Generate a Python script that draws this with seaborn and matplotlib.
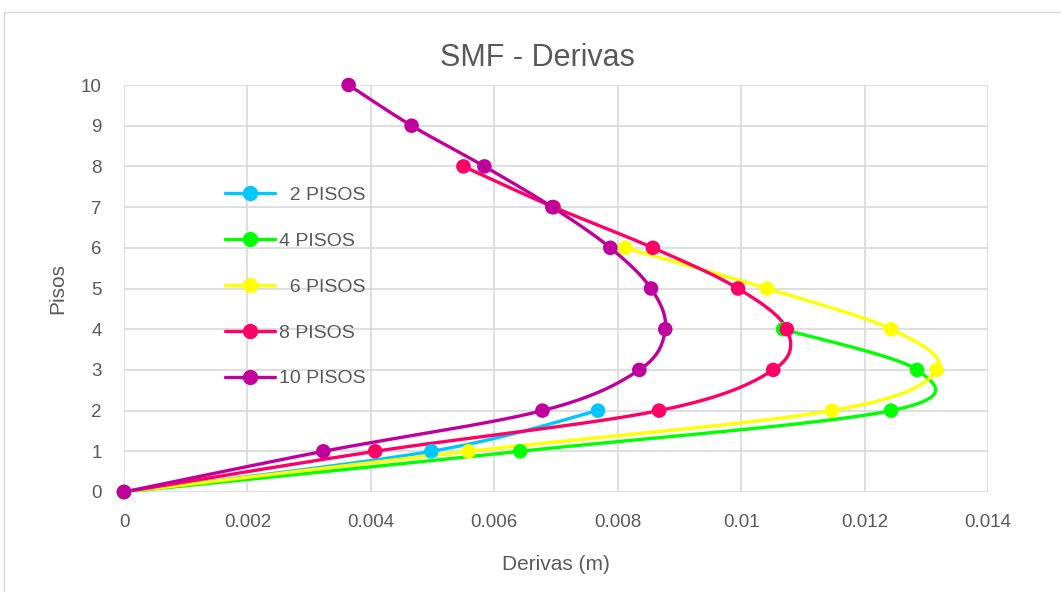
import numpy as np
import matplotlib
matplotlib.use("Agg")
import matplotlib.pyplot as plt
import seaborn as sns
from matplotlib import font_manager
from matplotlib.patches import Rectangle

sns.set_theme(style="white")
names = {f.name for f in font_manager.fontManager.ttflist}
fam = ['Liberation Sans Narrow', 'DejaVu Sans'] if 'Liberation Sans Narrow' in names else ['Liberation Sans', 'DejaVu Sans']
plt.rcParams['font.family'] = fam

# Data
labels = ["  2 PISOS", "4 PISOS", "  6 PISOS", "8 PISOS", "10 PISOS"]
colors = ["#00C8FF", "#00FF00", "#FFFF00", "#FF0066", "#C0009A"]
floors_2 = [0, 1, 2]
deriv_2 = [0, 0.00498, 0.00768]
floors_4 = [0, 1, 2, 3, 4]
deriv_4 = [0, 0.00642, 0.01243, 0.01285, 0.01068]
floors_6 = [0, 1, 2, 3, 4, 5, 6]
deriv_6 = [0, 0.00558, 0.01147, 0.01317, 0.01243, 0.01042, 0.00812]
floors_8 = [0, 1, 2, 3, 4, 5, 6, 7, 8]
deriv_8 = [0, 0.00407, 0.00867, 0.01052, 0.01074, 0.00995, 0.00857, 0.00696, 0.0055]
floors_10 = [0, 1, 2, 3, 4, 5, 6, 7, 8, 9, 10]
deriv_10 = [0, 0.00323, 0.00678, 0.00835, 0.00877, 0.00854, 0.00788, 0.00694, 0.00584, 0.00466, 0.00364]
x_ticks = [0, 0.002, 0.004, 0.006, 0.008, 0.01, 0.012, 0.014]
x_tick_labels = ["0", "0.002", "0.004", "0.006", "0.008", "0.01", "0.012", "0.014"]
y_ticks = list(range(0, 11))

series = [(deriv_2, floors_2), (deriv_4, floors_4), (deriv_6, floors_6),
          (deriv_8, floors_8), (deriv_10, floors_10)]

W, H = 1061, 592
fig = plt.figure(figsize=(W / 100, H / 100), dpi=100)
fig.patch.set_facecolor("white")
fig.patches.append(Rectangle((4 / W, -0.01), 1.0, 1 - 12 / H + 0.01, transform=fig.transFigure,
                             fill=False, edgecolor="#D9D9D9", linewidth=1.0))
ax = fig.add_axes([124 / W, 1 - 492 / H, 864 / W, 407 / H])


def smooth(xs, ys, n=30):
    # Excel-style smoothed curve (cubic Bezier with 1/6 tension), drawing only
    P = np.column_stack([xs, ys]).astype(float)
    sx, sy = 864 / 0.014, 407 / 10
    Q = P * [sx, sy]
    out = [Q[0]]
    m = len(Q)
    for i in range(m - 1):
        p0 = Q[i - 1] if i > 0 else Q[i]
        p1, p2 = Q[i], Q[i + 1]
        p3 = Q[i + 2] if i + 2 < m else Q[i + 1]
        c1 = p1 + (p2 - p0) / 6
        c2 = p2 - (p3 - p1) / 6
        t = np.linspace(0, 1, n)[1:, None]
        b = (1 - t) ** 3 * p1 + 3 * (1 - t) ** 2 * t * c1 + 3 * (1 - t) * t ** 2 * c2 + t ** 3 * p2
        out.extend(b)
    out = np.array(out) / [sx, sy]
    return out[:, 0], out[:, 1]


for (xs, ys), c, lab in zip(series, colors, labels):
    cx, cy = smooth(xs, ys)
    sns.lineplot(x=cx, y=cy, sort=False, ax=ax, color=c, linewidth=2.4, estimator=None, zorder=3)
    ax.plot([], [], color=c, linewidth=2.4, marker="o", markersize=10, label=lab)
    sns.scatterplot(x=xs, y=ys, ax=ax, color=c, s=110, edgecolor="none", zorder=4, clip_on=False)

ax.set_xlim(0, 0.014)
ax.set_ylim(0, 10)
ax.set_xticks(x_ticks)
ax.set_xticklabels(x_tick_labels)
ax.set_yticks(y_ticks)
ax.grid(True, color="#D9D9D9", linewidth=1.2)
ax.set_axisbelow(True)
for s in ax.spines.values():
    s.set_visible(False)
ax.tick_params(axis="both", length=0, labelsize=13.5, colors="#595959", pad=16)
ax.set_xlabel("Derivas (m)", fontsize=15, color="#595959", labelpad=17)
ax.set_ylabel("Pisos", fontsize=15, color="#595959", labelpad=10)
fig.text(537 / W, 1 - 58 / H, "SMF - Derivas", ha="center", va="center", fontsize=22, color="#595959")

leg = ax.legend(loc="upper left", bbox_to_anchor=((207 - 124) / 864, (492 - 169) / 407),
                frameon=False, fontsize=14, labelspacing=1.45, handlelength=2.6,
                handletextpad=0.2, labelcolor="#595959")

fig.savefig("out.png", dpi=100)
